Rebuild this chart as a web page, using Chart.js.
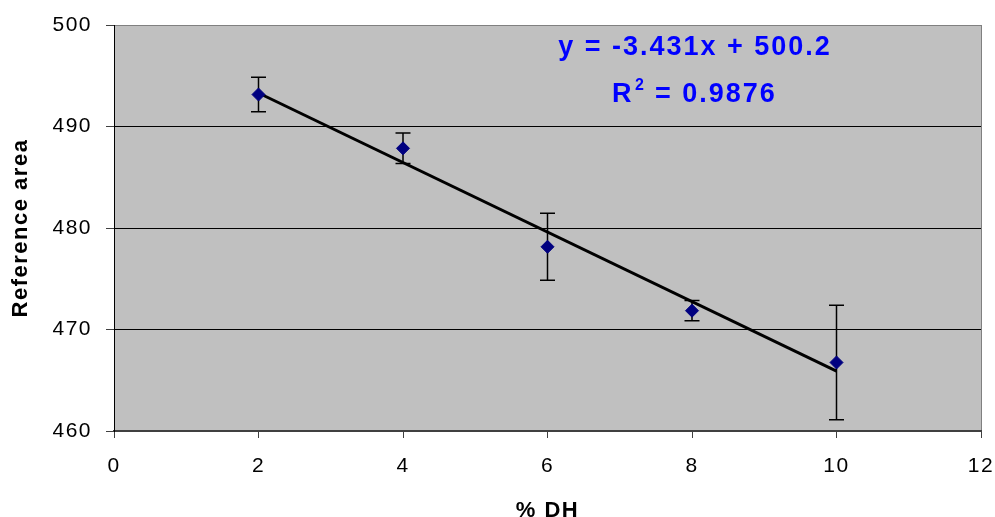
<!DOCTYPE html>
<html>
<head>
<meta charset="utf-8">
<script src="https://cdn.jsdelivr.net/npm/chart.js@4/dist/chart.umd.min.js"></script>
<style>
  html, body { margin: 0; padding: 0; background: #fff; }
  #wrap { width: 995px; height: 517px; }
</style>
</head>
<body>
<div id="wrap"><canvas id="chart"></canvas></div>
<script>
// values
var dhValues = [2, 4, 6, 8, 10];
var areaValues = [493.15, 487.85, 478.15, 471.85, 466.75];
var areaErrors = [1.7, 1.5, 3.3, 1.0, 5.65];
var trendX = [2, 10];
var trendY = [493.3, 465.9];
var xTicks = [0, 2, 4, 6, 8, 10, 12];
var yTicks = [460, 470, 480, 490, 500];
var equationText = 'y = -3.431x + 500.2';
var r2Value = '= 0.9876';

var FONT = '"Liberation Sans", Arial, sans-serif';

// grey plot background; ticks and titles get a little tracking like the original
var plotBackground = {
    id: 'plotBackground',
    beforeDraw: function (chart) {
        var a = chart.chartArea, ctx = chart.ctx;
        ctx.save();
        ctx.fillStyle = '#c0c0c0';
        ctx.fillRect(a.left, a.top, a.right - a.left, a.bottom - a.top);
        ctx.restore();
        ctx.letterSpacing = '1.5px';
    },
    afterDraw: function (chart) {
        chart.ctx.letterSpacing = '0px';
    }
};

// vertical error bars, drawn under the markers
var errorBars = {
    id: 'errorBars',
    beforeDatasetsDraw: function (chart) {
        var xs = chart.scales.x, ys = chart.scales.y, ctx = chart.ctx;
        ctx.save();
        ctx.strokeStyle = '#000';
        ctx.lineWidth = 1.5;
        for (var i = 0; i < dhValues.length; i++) {
            var px = xs.getPixelForValue(dhValues[i]);
            var top = ys.getPixelForValue(areaValues[i] + areaErrors[i]);
            var bot = ys.getPixelForValue(areaValues[i] - areaErrors[i]);
            ctx.beginPath();
            ctx.moveTo(px, top); ctx.lineTo(px, bot);
            ctx.moveTo(px - 7.5, top); ctx.lineTo(px + 7.5, top);
            ctx.moveTo(px - 7.5, bot); ctx.lineTo(px + 7.5, bot);
            ctx.stroke();
        }
        ctx.restore();
    }
};

// trendline equation box
var equationLabel = {
    id: 'equationLabel',
    afterDraw: function (chart) {
        var ctx = chart.ctx;
        ctx.save();
        ctx.fillStyle = '#0000ff';
        ctx.letterSpacing = '2px';
        ctx.font = 'bold 27px ' + FONT;
        ctx.textBaseline = 'alphabetic';
        ctx.textAlign = 'center';
        ctx.fillText(equationText, 695, 55);
        ctx.textAlign = 'left';
        ctx.fillText('R', 612, 102);
        ctx.fillText(r2Value, 655, 102);
        ctx.letterSpacing = '0px';
        ctx.font = 'bold 16px ' + FONT;
        ctx.fillText('2', 635, 90);
        ctx.restore();
    }
};

function noEdgePadding(s) {
    s.paddingLeft = 0;
    s.paddingRight = 0;
    s.paddingTop = 0;
    s.paddingBottom = 0;
}

new Chart(document.getElementById('chart'), {
    type: 'scatter',
    data: {
        datasets: [
            {
                label: 'Reference area',
                data: dhValues.map(function (x, i) { return { x: x, y: areaValues[i] }; }),
                pointStyle: 'rectRot',
                pointRadius: 6.5,
                pointBackgroundColor: '#000080',
                pointBorderColor: '#000080',
                pointBorderWidth: 1,
                showLine: false,
                order: 1
            },
            {
                label: 'Linear',
                data: trendX.map(function (x, i) { return { x: x, y: trendY[i] }; }),
                showLine: true,
                borderColor: '#000',
                borderWidth: 3,
                pointRadius: 0,
                order: 2
            }
        ]
    },
    options: {
        responsive: true,
        maintainAspectRatio: false,
        animation: false,
        layout: { padding: { left: 0, right: 14, top: 25, bottom: 0 } },
        plugins: {
            legend: { display: false },
            tooltip: { enabled: false }
        },
        scales: {
            x: {
                type: 'linear',
                min: 0,
                max: 12,
                afterBuildTicks: function (s) { s.ticks = xTicks.map(function (v) { return { value: v }; }); },
                afterFit: function (s) { s.height = 86; noEdgePadding(s); },
                grid: {
                    drawOnChartArea: true,
                    color: function (c) { return c.tick && c.tick.value === 12 ? '#808080' : 'rgba(0,0,0,0)'; },
                    tickColor: '#404040',
                    tickLength: 7,
                    lineWidth: 1
                },
                border: { display: true, color: '#404040', width: 2 },
                ticks: {
                    color: '#000',
                    font: { family: FONT, size: 21 },
                    padding: 16,
                    maxRotation: 0
                },
                title: {
                    display: true,
                    text: '% DH',
                    color: '#000',
                    font: { family: FONT, size: 22, weight: 'bold', lineHeight: 1 },
                    padding: { top: 0, bottom: -5 }
                }
            },
            y: {
                type: 'linear',
                min: 460,
                max: 500,
                afterBuildTicks: function (s) { s.ticks = yTicks.map(function (v) { return { value: v }; }); },
                afterFit: function (s) { s.width = 114; noEdgePadding(s); },
                grid: {
                    color: function (c) {
                        if (!c.tick) return '#000';
                        if (c.tick.value === 500) return '#808080';
                        if (c.tick.value === 460) return 'rgba(0,0,0,0)';
                        return '#000';
                    },
                    tickColor: '#404040',
                    tickLength: 8,
                    lineWidth: 1
                },
                border: { display: true, color: '#000', width: 1 },
                ticks: {
                    color: '#000',
                    font: { family: FONT, size: 21 },
                    padding: 14
                },
                title: {
                    display: true,
                    text: 'Reference area',
                    color: '#000',
                    font: { family: FONT, size: 22, weight: 'bold', lineHeight: 1 },
                    padding: { top: 10, bottom: 0 }
                }
            }
        }
    },
    plugins: [plotBackground, errorBars, equationLabel]
});
</script>
</body>
</html>
